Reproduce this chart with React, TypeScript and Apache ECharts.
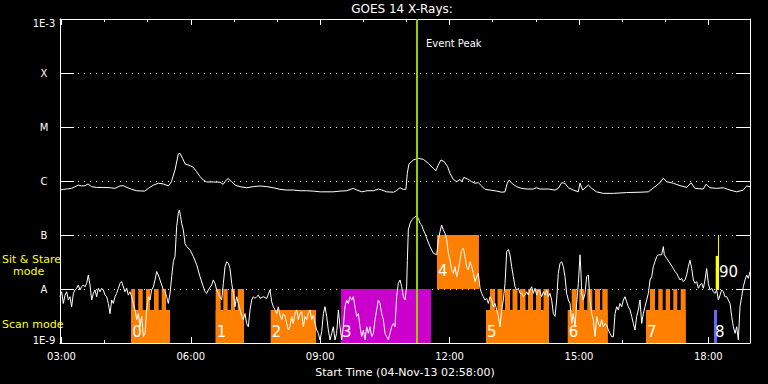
import React, { useEffect, useRef } from 'react';
import * as echarts from 'echarts';

// time axis: minutes of the day, 02:58 .. 18:58
const T_START = 178;
const T_END = 1138;
const hourTicks = [180, 240, 300, 360, 420, 480, 540, 600, 660, 720, 780, 840, 900, 960, 1020, 1080];
const labelTicks = [180, 360, 540, 720, 900, 1080];

const fluxTicks = [1e-9, 1e-8, 1e-7, 1e-6, 1e-5, 1e-4, 1e-3];
const fluxLabels = ['1E-9', 'A', 'B', 'C', 'M', 'X', '1E-3'];

const eventPeak = 674;

// GOES 14 long channel (1-8 A)
const longChannel: [number, number][] = [
  [178, 6.8e-7], [182.6, 7.0e-7], [187, 7.1e-7], [194, 7.3e-7], [199, 7.85e-7], [203.5, 8.4e-7], [208, 8.1e-7],
  [213, 8.2e-7], [217, 8.8e-7], [222, 7.85e-7], [229, 7.6e-7], [238, 7.6e-7], [248, 7.5e-7], [254.5, 7.3e-7],
  [261.5, 8.1e-7], [266, 8.2e-7], [271, 7.6e-7], [278, 7.0e-7], [284.7, 6.6e-7], [296, 6.5e-7], [301, 7.3e-7],
  [308, 8.4e-7], [315, 9.1e-7], [322, 8.8e-7], [329, 8.1e-7], [333, 9.7e-7], [338, 1.6e-6], [342.6, 3.16e-6],
  [345, 3.25e-6], [348.7, 2.6e-6], [352, 2.07e-6], [359, 1.92e-6], [363.5, 1.79e-6], [368, 1.49e-6], [373, 1.2e-6],
  [377.5, 1.04e-6], [382, 9.6e-7], [391, 9.6e-7], [400.6, 9.5e-7], [405, 8.7e-7], [410, 1.07e-6], [412, 1.1e-6],
  [417, 9.7e-7], [421.5, 8.4e-7], [428.5, 7.85e-7], [437.7, 7.5e-7], [447, 7.85e-7], [456, 8.1e-7], [465.6, 7.85e-7],
  [475, 7.5e-7], [484, 7.0e-7], [493, 6.8e-7], [502.7, 6.8e-7], [512, 6.6e-7], [521, 6.6e-7], [530.5, 6.5e-7],
  [540, 6.3e-7], [558, 6.3e-7], [567.6, 6.5e-7], [577, 6.6e-7], [586, 7.3e-7], [591, 6.8e-7], [598, 6.3e-7],
  [605, 6.6e-7], [614, 6.6e-7], [621, 7.1e-7], [625.6, 6.8e-7], [632.5, 6.3e-7], [642, 6.2e-7], [646, 6.6e-7],
  [651, 7.5e-7], [655.6, 7.0e-7], [659.3, 7.0e-7], [661.2, 1.39e-6], [663.5, 2.07e-6], [669.6, 2.45e-6],
  [676.5, 2.63e-6], [683.5, 2.52e-6], [690.4, 2.12e-6], [697.4, 1.72e-6], [701, 1.55e-6], [704.3, 1.98e-6],
  [708, 2.45e-6], [712.7, 2.28e-6], [717.3, 1.84e-6], [720.6, 1.39e-6], [725.2, 1.07e-6], [729.8, 9.7e-7],
  [734.5, 1.07e-6], [736.8, 9.7e-7], [740, 1.17e-6], [746, 1.07e-6], [750.7, 9.7e-7], [755.4, 9.1e-7], [760, 9.3e-7],
  [764.6, 8.1e-7], [769.3, 7.0e-7], [776.2, 6.8e-7], [785.5, 6.5e-7], [792.5, 6.2e-7], [797.1, 6.3e-7], [800.3, 9.1e-7],
  [803, 1.04e-6], [806.4, 9.1e-7], [813.3, 7.85e-7], [820.3, 7.3e-7], [827.2, 7.1e-7], [836.5, 7.1e-7], [841, 7.5e-7],
  [845.8, 7.1e-7], [857.4, 7.1e-7], [866.7, 6.8e-7], [871.3, 7.3e-7], [876, 9.3e-7], [880.6, 9.1e-7], [885.2, 7.5e-7],
  [892.2, 6.8e-7], [899, 6.3e-7], [901.5, 9.1e-7], [905.2, 6.8e-7], [913, 8.4e-7], [917.7, 7.3e-7], [924.6, 6.3e-7],
  [934, 5.9e-7], [947.8, 5.9e-7], [966.4, 6.1e-7], [985, 6.2e-7], [996.5, 6.3e-7], [1005.8, 7.85e-7], [1012.8, 9.3e-7],
  [1017.4, 1.12e-6], [1022, 9.7e-7], [1031.3, 9.1e-7], [1040.6, 8.2e-7], [1049.9, 7.6e-7], [1056, 9.3e-7],
  [1061.5, 7.3e-7], [1073, 7.1e-7], [1076.8, 8.7e-7], [1082.3, 7.5e-7], [1091.6, 7.3e-7], [1100.9, 7.5e-7],
  [1110, 6.8e-7], [1119.4, 6.3e-7], [1128.7, 6.8e-7], [1133.3, 8.1e-7], [1138, 7.85e-7],
];

// GOES 14 short channel (0.5-4 A)
const shortChannel: [number, number][] = [
  [178.0, 7.2e-9], [180.3, 8.9e-9], [182.6, 5.4e-9], [185.0, 7.7e-9], [187.3, 8.9e-9], [189.6, 6.25e-9], [191.9, 7.2e-9],
  [194.2, 4.7e-9], [196.6, 8.3e-9], [198.9, 9.6e-9], [201.2, 1.03e-8], [203.5, 1.19e-8], [205.8, 9.6e-9], [208.1, 1.1e-8],
  [210.5, 1.19e-8], [212.8, 1.1e-8], [215.1, 1.27e-8], [217.4, 1.82e-8], [219.7, 1.19e-8], [222.1, 6.25e-9], [224.4, 8.3e-9],
  [226.7, 9.6e-9], [229.0, 7.2e-9], [231.3, 1.03e-8], [233.7, 8.9e-9], [236.0, 1.03e-8], [238.3, 9.6e-9], [240.6, 7.7e-9],
  [242.9, 7.2e-9], [245.3, 5.4e-9], [247.6, 3.5e-9], [249.9, 6.25e-9], [252.2, 5.4e-9], [254.5, 7.2e-9], [256.8, 8.3e-9],
  [259.2, 1.03e-8], [261.5, 1.27e-8], [263.8, 1.37e-8], [266.1, 1.1e-8], [268.4, 8.9e-9], [270.8, 1.03e-8], [273.1, 7.7e-9],
  [275.4, 8.9e-9], [277.7, 7.2e-9], [280.0, 5.4e-9], [282.4, 4.1e-9], [284.7, 2.7e-9], [287.0, 3.5e-9], [289.3, 2.0e-9],
  [291.6, 3.1e-9], [294.0, 1.31e-9], [296.3, 1.51e-9], [298.6, 4.1e-9], [300.9, 7.2e-9], [303.2, 6.25e-9], [305.5, 9.6e-9],
  [307.9, 1.1e-8], [310.2, 1.47e-8], [312.5, 2.1e-8], [314.8, 1.82e-8], [317.1, 1.47e-8], [319.5, 1.19e-8], [321.8, 9.6e-9],
  [324.1, 8.9e-9], [326.4, 7.2e-9], [328.7, 5.4e-9], [331.1, 8.3e-9], [333.4, 1.69e-8], [335.7, 3.2e-8], [338.0, 4.0e-8],
  [340.3, 1.43e-7], [342.6, 2.52e-7], [344.0, 2.9e-7], [345.9, 2.18e-7], [347.3, 1.64e-7], [349.6, 1.24e-7], [351.9, 7.0e-8],
  [354.2, 6.1e-8], [358.9, 5.3e-8], [363.5, 4.0e-8], [368.2, 2.8e-8], [372.8, 1.69e-8], [377.4, 1.1e-8], [379.8, 8.9e-9],
  [382.1, 8.3e-9], [384.4, 9.6e-9], [389.0, 1.19e-8], [391.3, 1.47e-8], [393.7, 1.27e-8], [396.0, 9.6e-9], [398.3, 8.3e-9],
  [402.9, 6.25e-9], [405.3, 1.27e-8], [407.6, 2.6e-8], [409.9, 3.2e-8], [412.2, 3.0e-8], [414.5, 2.4e-8], [416.9, 1.27e-8],
  [419.2, 8.3e-9], [421.5, 4.7e-9], [423.8, 7.2e-9], [426.1, 5.4e-9], [428.5, 4.1e-9], [430.8, 3.1e-9], [433.1, 2.7e-9],
  [435.4, 3.5e-9], [437.7, 2.3e-9], [440.0, 2.0e-9], [442.4, 4.1e-9], [444.7, 6.25e-9], [447.0, 7.2e-9], [449.3, 6.7e-9],
  [451.6, 7.2e-9], [454.0, 7.7e-9], [456.3, 6.7e-9], [460.9, 7.2e-9], [465.6, 6.7e-9], [470.2, 9.6e-9], [472.5, 5.8e-9],
  [474.8, 4.7e-9], [477.2, 4.1e-9], [479.5, 3.5e-9], [481.8, 4.7e-9], [484.1, 3.3e-9], [486.4, 2.7e-9], [488.7, 3.5e-9],
  [491.1, 3.1e-9], [493.4, 2.3e-9], [495.7, 1.74e-9], [498.0, 2.0e-9],
  [500.3, 3.1e-9], [502.6, 2.3e-9], [505.0, 3.5e-9], [507.3, 4.1e-9], [509.6, 2.7e-9], [511.9, 3.5e-9], [514.2, 3.8e-9],
  [516.6, 2.0e-9], [518.9, 3.1e-9], [521.2, 2.7e-9], [523.5, 3.5e-9], [525.8, 4.1e-9], [528.1, 2.7e-9], [530.5, 3.3e-9],
  [532.8, 2.3e-9], [535.1, 1.74e-9], [537.4, 1.51e-9], [539.7, 1.14e-9], [542.1, 1.62e-9], [544.4, 3.5e-9], [546.7, 4.7e-9],
  [549.0, 3.1e-9], [551.3, 1.74e-9], [553.7, 1.14e-9], [556.0, 1.51e-9], [558.3, 2.0e-9], [560.6, 1.14e-9], [562.9, 1.51e-9],
  [565.3, 4.1e-9], [567.6, 2.0e-9], [569.9, 1.14e-9], [572.2, 2.0e-9], [574.5, 4.7e-9], [576.8, 6.25e-9], [579.2, 5.4e-9],
  [581.5, 7.2e-9], [583.8, 6.25e-9], [586.1, 7.2e-9], [588.4, 4.7e-9], [590.8, 3.1e-9], [593.1, 3.5e-9], [595.4, 2.0e-9],
  [597.7, 1.31e-9], [600.0, 1.74e-9], [602.4, 1.14e-9], [604.7, 2.0e-9], [607.0, 1.51e-9], [609.3, 2.0e-9], [611.6, 1.31e-9],
  [614.0, 1.51e-9], [616.3, 2.7e-9], [618.6, 4.1e-9], [620.9, 6.25e-9], [623.2, 5.4e-9], [625.5, 3.5e-9], [627.9, 2.7e-9],
  [630.2, 1.51e-9], [632.5, 1.31e-9], [634.8, 1.14e-9], [637.1, 1.51e-9], [639.5, 2.0e-9], [641.8, 2.3e-9], [644.1, 2.0e-9],
  [646.4, 7.2e-9], [648.7, 1.27e-8], [651.1, 1.47e-8], [653.4, 1.1e-8], [655.7, 7.2e-9], [658.0, 6.25e-9], [660.3, 1.1e-8],
  [661.3, 3.4e-8], [662.6, 1.24e-7], [665.0, 1.64e-7], [667.3, 1.9e-7], [669.6, 2.03e-7], [671.9, 2.18e-7], [674.2, 2.25e-7],
  [676.6, 2.03e-7], [678.9, 1.64e-7], [681.2, 1.53e-7], [683.5, 1.24e-7], [685.8, 1.07e-7], [688.2, 8.7e-8], [692.8, 6.1e-8],
  [697.4, 4.6e-8], [702.1, 4.3e-8], [704.4, 8.1e-8], [706.7, 1.15e-7], [709.0, 1.53e-7], [711.3, 1.24e-7], [713.7, 1.07e-7],
  [716.0, 8.1e-8], [718.3, 4.6e-8], [720.6, 3.4e-8], [722.9, 2.25e-8], [725.3, 1.95e-8], [727.6, 2.6e-8], [729.9, 1.69e-8],
  [732.2, 2.25e-8], [734.5, 3.4e-8], [736.9, 5.3e-8], [739.2, 5.7e-8], [741.5, 4.0e-8], [743.8, 2.6e-8], [746.1, 2.25e-8],
  [748.5, 3.2e-8], [750.8, 2.6e-8], [753.1, 1.95e-8], [755.4, 1.37e-8], [757.7, 1.69e-8], [760.0, 1.95e-8], [762.4, 1.03e-8],
  [764.7, 8.3e-9], [767.0, 7.2e-9], [769.3, 6.25e-9], [771.6, 6.7e-9], [774.0, 5.4e-9], [776.3, 7.2e-9], [778.6, 6.25e-9],
  [780.9, 4.7e-9], [783.2, 5.4e-9], [785.6, 4.1e-9], [787.9, 3.1e-9], [790.2, 2.0e-9], [792.5, 4.1e-9], [794.8, 6.25e-9],
  [797.2, 1.27e-8], [799.5, 4.9e-8], [801.8, 5.4e-8], [804.1, 4.3e-8], [806.4, 2.6e-8], [808.7, 1.69e-8], [811.1, 1.1e-8],
  [813.4, 9.6e-9], [815.7, 1.03e-8], [818.0, 8.3e-9],
  [820.3, 8.3e-9], [822.6, 7.2e-9], [825.0, 7.7e-9], [827.3, 8.9e-9], [829.6, 7.7e-9], [831.9, 9.6e-9], [834.2, 1.1e-8],
  [836.6, 8.3e-9], [838.9, 1.03e-8], [841.2, 7.7e-9], [843.5, 9.6e-9], [845.8, 8.9e-9], [848.1, 7.2e-9], [850.5, 8.9e-9],
  [852.8, 7.7e-9], [855.1, 9.6e-9], [857.4, 7.2e-9], [859.7, 8.3e-9], [862.1, 6.25e-9], [864.4, 3.5e-9], [866.7, 3.1e-9],
  [869.0, 6.25e-9], [871.3, 1.95e-8], [873.7, 3.0e-8], [876.0, 3.2e-8], [878.3, 2.6e-8], [880.6, 1.69e-8], [882.9, 8.3e-9],
  [885.3, 6.25e-9], [887.6, 5.4e-9], [889.9, 2.3e-9], [892.2, 3.5e-9], [894.5, 2.0e-9], [896.8, 5.4e-9], [899.2, 1.27e-8],
  [901.5, 4.3e-8], [902.9, 1.95e-8], [903.8, 8.3e-9], [906.1, 6.25e-9], [908.4, 8.3e-9], [910.8, 1.69e-8], [913.1, 1.82e-8],
  [915.4, 6.25e-9], [917.7, 3.5e-9], [920.0, 2.7e-9], [922.4, 1.31e-9], [924.7, 3.1e-9], [927.0, 2.3e-9], [929.3, 2.0e-9],
  [931.6, 2.7e-9], [934.0, 2.0e-9], [936.3, 2.3e-9], [938.6, 2.15e-9], [940.9, 1.74e-9], [943.2, 1.51e-9], [945.5, 1.31e-9],
  [947.9, 1.31e-9], [950.2, 3.5e-9], [952.5, 4.7e-9], [954.8, 4.1e-9], [957.1, 5.4e-9], [959.5, 4.7e-9], [961.8, 6.25e-9],
  [964.1, 7.2e-9], [966.4, 5.8e-9], [968.7, 4.7e-9], [971.1, 4.1e-9], [973.4, 3.1e-9], [975.7, 2.3e-9], [978.0, 1.74e-9],
  [980.3, 3.1e-9], [982.6, 4.1e-9], [985.0, 6.25e-9], [987.3, 2.3e-9], [989.6, 3.5e-9], [991.9, 4.7e-9], [994.2, 6.25e-9],
  [996.6, 8.3e-9], [998.9, 1.47e-8], [1001.2, 1.69e-8], [1003.5, 2.6e-8], [1005.8, 3.2e-8], [1008.2, 4.0e-8], [1010.5, 4.3e-8],
  [1015.1, 4.3e-8], [1017.4, 6.1e-8], [1018.8, 4.3e-8], [1022.1, 3.7e-8], [1026.7, 3.0e-8], [1031.3, 2.4e-8], [1033.7, 2.1e-8],
  [1036.0, 1.95e-8], [1038.3, 1.69e-8], [1040.6, 1.47e-8], [1042.9, 1.57e-8], [1045.3, 1.37e-8], [1047.6, 1.47e-8],
  [1049.9, 1.82e-8], [1052.2, 2.6e-8], [1054.5, 3.4e-8], [1056.9, 2.4e-8], [1059.2, 1.47e-8], [1061.5, 1.27e-8],
  [1063.8, 1.37e-8], [1066.1, 1.03e-8], [1068.5, 1.19e-8], [1070.8, 1.27e-8], [1073.1, 1.03e-8], [1075.4, 1.47e-8],
  [1077.7, 2.4e-8], [1080.0, 1.27e-8], [1082.4, 9.6e-9], [1084.7, 1.03e-8], [1087.0, 8.9e-9], [1089.3, 8.3e-9],
  [1091.6, 9.6e-9], [1094.0, 6.25e-9], [1096.3, 7.7e-9], [1098.6, 9.6e-9], [1100.9, 8.9e-9], [1103.2, 7.2e-9],
  [1105.6, 7.2e-9], [1107.9, 6.25e-9], [1110.2, 5.4e-9], [1112.5, 3.1e-9], [1114.8, 2.0e-9], [1117.2, 1.51e-9],
  [1119.5, 2.0e-9], [1121.8, 1.14e-9], [1124.1, 4.7e-9], [1126.4, 7.2e-9], [1128.7, 1.1e-8], [1131.1, 1.47e-8],
  [1133.4, 1.82e-8], [1135.7, 1.57e-8], [1138.0, 2.1e-8],
];

// observation blocks (minutes of day)
const FLOOR = 1e-9;
const SCAN_TOP = 4.1e-9;
const A_LEVEL = 1e-8;
const B_LEVEL = 1e-7;

const scanBoxes: [number, number][] = [
  [277, 331], [394.6, 434], [471.1, 534.2], [770.7, 858.4], [884.4, 940], [993.3, 1048.5],
];
const scanTeeth: [number, number][] = [
  [277, 282.3], [286.9, 293.1], [297.7, 303.2], [308.8, 315.3], [319.5, 325.5],
  [394.6, 401.6], [405.2, 411.3], [415.9, 421.5], [425.2, 434],
  [776.3, 783.2], [786.7, 793.6], [797.1, 804.1], [807.6, 814.5], [818, 825.7], [829.1, 836.1], [840.3, 847.2], [850.7, 858.4],
  [889.9, 896.9], [900.5, 907], [911.6, 918.6], [922.4, 929.3], [932.5, 940],
  [998.9, 1005.8], [1010.4, 1016.5], [1020.7, 1026.7], [1031.3, 1036.8], [1041.6, 1048.5],
];
const stareOrange: [number, number, number, number][] = [[702.5, 760.9, A_LEVEL, B_LEVEL]];
const stareMagenta: [number, number, number, number][] = [[569, 694.2, FLOOR, A_LEVEL]];
const blueBlocks: [number, number, number, number][] = [[1087.9, 1092.1, FLOOR, SCAN_TOP]];
const yellowBlocks: [number, number, number, number][] = [
  [1093.5, 1094.9, 9.6e-9, B_LEVEL],
  [1090.3, 1094.9, 9.6e-9, 4.1e-8],
];

const blockLabels = ['0', '1', '2', '3', '4', '5', '6', '7', '8', '90'];
const labelTimes = [277, 394.6, 471.1, 569, 702.5, 770.7, 884.4, 993.3, 1087.9, 1093.5];
const labelFlux = [1.6e-9, 1.6e-9, 1.6e-9, 1.6e-9, 2.15e-8, 1.6e-9, 1.6e-9, 1.6e-9, 1.6e-9, 2.07e-8];

const FONT = 'DejaVu Sans';

function fmtTime(v: number) {
  const h = Math.floor(v / 60);
  const m = Math.round(v - h * 60);
  return String(h).padStart(2, '0') + ':' + String(m).padStart(2, '0');
}

function rectSeries(rects: number[][], color: string, z: number) {
  return {
    type: 'custom',
    xAxisIndex: 0,
    yAxisIndex: 0,
    z,
    silent: true,
    clip: true,
    encode: { x: [0, 1], y: [2, 3] },
    data: rects,
    renderItem: (_p: any, api: any) => {
      const p0 = api.coord([api.value(0), api.value(3)]);
      const p1 = api.coord([api.value(1), api.value(2)]);
      return {
        type: 'rect',
        shape: { x: p0[0], y: p0[1], width: p1[0] - p0[0], height: p1[1] - p0[1] },
        style: { fill: color },
      };
    },
  };
}

export default function App() {
  const ref = useRef<HTMLDivElement>(null);
  useEffect(() => {
    document.body.style.margin = '0';
    document.body.style.background = '#000';
    const chart = echarts.init(ref.current!, null, { renderer: 'svg' });

    const orangeRects = [
      ...scanBoxes.map(([s, e]) => [s, e, FLOOR, SCAN_TOP]),
      ...scanTeeth.map(([s, e]) => [s, e, FLOOR, A_LEVEL]),
      ...stareOrange,
    ];

    const xBase = {
      type: 'value',
      min: T_START,
      max: T_END,
      gridIndex: 0,
      splitLine: { show: false },
    };
    const white = '#ffffff';

    const option: any = {
      animation: false,
      backgroundColor: '#000000',
      grid: { left: 60, right: 18, top: 19, bottom: 41, containLabel: false },
      xAxis: [
        {
          ...xBase,
          position: 'bottom',
          axisLine: { show: true, lineStyle: { color: white, width: 1 } },
          axisTick: { show: true, inside: true, length: 3, customValues: hourTicks, lineStyle: { color: white } },
          axisLabel: {
            show: true, customValues: labelTicks, formatter: (v: number) => fmtTime(v),
            color: white, fontFamily: FONT, fontSize: 10, margin: 8,
          },
          name: 'Start Time (04-Nov-13 02:58:00)',
          nameLocation: 'middle',
          nameGap: 24,
          nameTextStyle: { color: white, fontFamily: FONT, fontSize: 11 },
        },
        {
          ...xBase,
          position: 'bottom',
          axisLine: { show: false },
          axisTick: { show: true, inside: true, length: 6, customValues: labelTicks, lineStyle: { color: white } },
          axisLabel: { show: false },
        },
        {
          ...xBase,
          position: 'top',
          axisLine: { show: true, lineStyle: { color: white, width: 1 } },
          axisTick: { show: true, inside: true, length: 3, customValues: hourTicks, lineStyle: { color: white } },
          axisLabel: { show: false },
        },
        {
          ...xBase,
          position: 'top',
          axisLine: { show: false },
          axisTick: { show: true, inside: true, length: 6, customValues: labelTicks, lineStyle: { color: white } },
          axisLabel: { show: false },
        },
      ],
      yAxis: [
        {
          type: 'log',
          logBase: 10,
          min: 1e-9,
          max: 1e-3,
          position: 'left',
          axisLine: { show: true, lineStyle: { color: white, width: 1 } },
          axisTick: { show: true, inside: true, length: 14, customValues: fluxTicks, lineStyle: { color: white } },
          axisLabel: {
            show: true,
            customValues: fluxTicks,
            color: white,
            fontFamily: FONT,
            fontSize: 10,
            align: 'center',
            margin: 16,
            formatter: (v: number) => {
              const i = Math.round(Math.log10(v)) + 9;
              const t = fluxLabels[i] ?? '';
              if (i === 6) return '{top|' + t + '}';
              if (i === 0) return '{bot|' + t + '}';
              return t;
            },
            rich: {
              top: { color: white, fontFamily: FONT, fontSize: 10, padding: [8, 0, 0, 0] },
              bot: { color: white, fontFamily: FONT, fontSize: 10, padding: [0, 0, 6, 0] },
            },
          },
          splitLine: { show: true, lineStyle: { color: white, width: 1, type: [1, 5] } },
        },
        {
          type: 'log',
          logBase: 10,
          min: 1e-9,
          max: 1e-3,
          position: 'right',
          axisLine: { show: true, lineStyle: { color: white, width: 1 } },
          axisTick: { show: true, inside: true, length: 14, customValues: fluxTicks, lineStyle: { color: white } },
          axisLabel: { show: false },
          splitLine: { show: false },
        },
      ],
      graphic: [
        {
          type: 'text', x: 402, y: 9, silent: true,
          style: { text: 'GOES 14 X-Rays:', fill: white, font: '12px "DejaVu Sans"', textAlign: 'center', align: 'center', textVerticalAlign: 'middle', verticalAlign: 'middle' },
        },
        {
          type: 'text', x: 426, y: 43, silent: true,
          style: { text: 'Event Peak', fill: white, font: '10px "DejaVu Sans"', textAlign: 'left', align: 'left', textVerticalAlign: 'middle', verticalAlign: 'middle' },
        },
        {
          type: 'text', x: 2, y: 259, silent: true,
          style: { text: 'Sit & Stare', fill: '#ffff00', font: '11px "DejaVu Sans"', textAlign: 'left', align: 'left', textVerticalAlign: 'middle', verticalAlign: 'middle' },
        },
        {
          type: 'text', x: 13, y: 271, silent: true,
          style: { text: 'mode', fill: '#ffff00', font: '11px "DejaVu Sans"', textAlign: 'left', align: 'left', textVerticalAlign: 'middle', verticalAlign: 'middle' },
        },
        {
          type: 'text', x: 2, y: 324, silent: true,
          style: { text: 'Scan mode', fill: '#ffff00', font: '11px "DejaVu Sans"', textAlign: 'left', align: 'left', textVerticalAlign: 'middle', verticalAlign: 'middle' },
        },
      ],
      series: [
        rectSeries(orangeRects, '#ff8000', 2),
        rectSeries(stareMagenta, '#cc00cc', 2),
        rectSeries(blueBlocks, '#6464ff', 2),
        rectSeries(yellowBlocks, '#ffff00', 2),
        {
          type: 'custom',
          xAxisIndex: 0,
          yAxisIndex: 0,
          z: 3,
          silent: true,
          data: labelTimes.map((t, i) => [t, labelFlux[i]]),
          renderItem: (params: any, api: any) => {
            const p = api.coord([api.value(0), api.value(1)]);
            return {
              type: 'text',
              x: p[0] + 1,
              y: p[1],
              style: {
                text: blockLabels[params.dataIndex],
                fill: white,
                font: '15px "DejaVu Sans"',
                textAlign: 'left', align: 'left',
                textVerticalAlign: 'middle', verticalAlign: 'middle',
              },
            };
          },
        },
        {
          type: 'line',
          name: 'long',
          xAxisIndex: 0,
          yAxisIndex: 0,
          z: 4,
          data: longChannel,
          showSymbol: false,
          symbol: 'none',
          lineStyle: { color: white, width: 1 },
          silent: true,
        },
        {
          type: 'line',
          name: 'short',
          xAxisIndex: 0,
          yAxisIndex: 0,
          z: 4,
          data: shortChannel,
          showSymbol: false,
          symbol: 'none',
          lineStyle: { color: white, width: 1 },
          silent: true,
        },
        {
          type: 'line',
          xAxisIndex: 0,
          yAxisIndex: 0,
          z: 5,
          data: [],
          silent: true,
          markLine: {
            silent: true,
            symbol: 'none',
            label: { show: false },
            lineStyle: { color: '#9acd00', width: 2, type: 'solid' },
            data: [{ xAxis: eventPeak }],
          },
        },
      ],
    };
    chart.setOption(option);
    return () => chart.dispose();
  }, []);

  return (
    <div
      ref={ref}
      style={{ position: 'absolute', left: 0, top: 0, width: 768, height: 384, background: '#000' }}
    />
  );
}
